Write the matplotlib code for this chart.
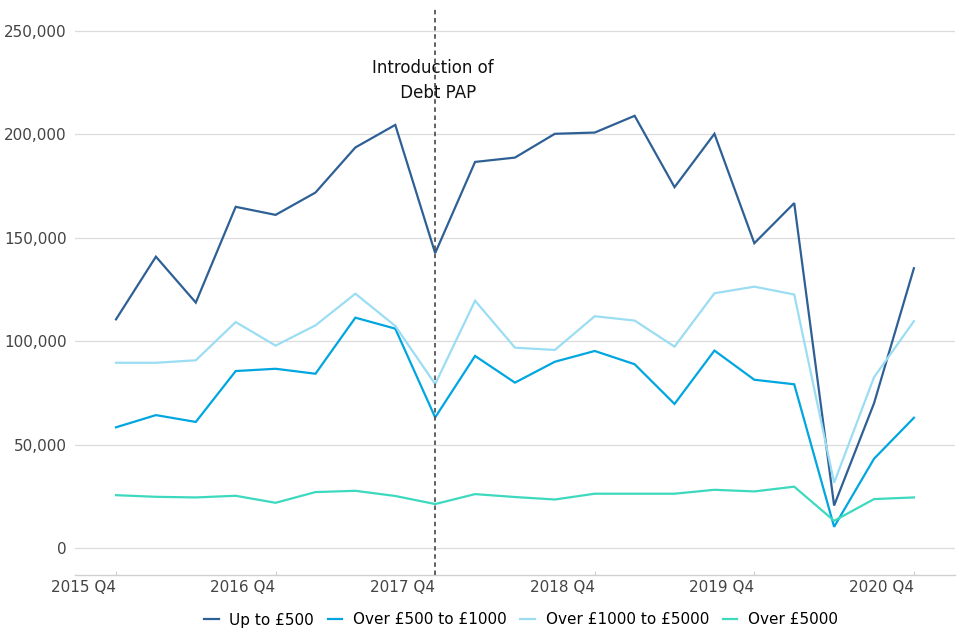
import matplotlib
matplotlib.use("Agg")
import matplotlib.pyplot as plt
import numpy as np

quarters = ["2015 Q4", "2016 Q1", "2016 Q2", "2016 Q3", "2016 Q4",
            "2017 Q1", "2017 Q2", "2017 Q3", "2017 Q4",
            "2018 Q1", "2018 Q2", "2018 Q3", "2018 Q4",
            "2019 Q1", "2019 Q2", "2019 Q3", "2019 Q4",
            "2020 Q1", "2020 Q2", "2020 Q3", "2020 Q4"]

up_to_500 = [110600, 140900, 118700, 165000, 161100, 171900, 193700, 204600,
             142600, 186700, 188800, 200300, 200900, 209000, 174500, 200300,
             147400, 166800, 20600, 70000, 135300]
over_500_1000 = [58400, 64300, 61000, 85600, 86700, 84300, 111400, 106100,
                 63200, 92900, 80000, 90100, 95300, 88900, 69700, 95500,
                 81400, 79200, 10300, 43200, 63000]
over_1000_5000 = [89600, 89600, 90800, 109300, 97900, 107700, 123000, 107400,
                  79300, 119600, 96900, 95800, 112100, 110000, 97400, 123200,
                  126400, 122600, 31600, 82600, 109700]
over_5000 = [25600, 24800, 24500, 25300, 21900, 27100, 27700, 25200,
             21300, 26100, 24700, 23500, 26300, 26300, 26300, 28200,
             27400, 29700, 13200, 23700, 24500]

series_names = ["Up to £500", "Over £500 to £1000", "Over £1000 to £5000", "Over £5000"]
colors = ["#2E6096", "#00A6DF", "#9BDDF3", "#3DD9BF"]

tick_labels = ["2015 Q4", "2016 Q4", "2017 Q4", "2018 Q4", "2019 Q4", "2020 Q4"]
event_quarter = "2017 Q4"
event_label = "Introduction of \n Debt PAP"
yticks = [0, 50000, 100000, 150000, 200000, 250000]

fig = plt.figure(figsize=(9.6, 6.4), dpi=100)
ax = fig.add_axes([75/960, 1 - 575/640, 880/960, 568/640])

x = np.arange(len(quarters))
for vals, name, c in zip([up_to_500, over_500_1000, over_1000_5000, over_5000], series_names, colors):
    ax.plot(x, vals, color=c, lw=1.6, label=name, solid_joinstyle="miter")

ex = quarters.index(event_quarter)
ax.axvline(ex, color="#555555", lw=1.3, ls=(0, (2.5, 2.0)), zorder=5)
ax.text(ex, 226000, event_label, ha="center", va="center",
        fontsize=12, color="#111111", multialignment="center",
        linespacing=1.45, zorder=6)

ax.set_xlim(-1.028, 21.03)
ax.set_ylim(-13000, 261600)

ax.set_yticks(yticks)
ax.set_yticklabels([f"{v:,}" for v in yticks])
ax.set_xticks([quarters.index(t) for t in tick_labels])
ax.set_xticklabels(tick_labels, ha="right")

ax.grid(axis="y", color="#dcdcdc", lw=0.9)
ax.set_axisbelow(True)
for s in ["left", "right", "top"]:
    ax.spines[s].set_visible(False)
ax.spines["bottom"].set_color("#d0d0d0")
ax.spines["bottom"].set_linewidth(1.0)

ax.tick_params(axis="y", length=0, labelsize=11, labelcolor="#444444", pad=6)
ax.tick_params(axis="x", length=3, direction="in", color="#d0d0d0", labelsize=11,
               labelcolor="#444444", pad=3.5)

handles, labels = ax.get_legend_handles_labels()
fig.legend(handles, labels, loc="center", bbox_to_anchor=(521/960, 20/640),
           ncol=4, frameon=False, fontsize=11, handlelength=0.95,
           handletextpad=0.7, columnspacing=0.9)

fig.savefig("out.png", dpi=100)
